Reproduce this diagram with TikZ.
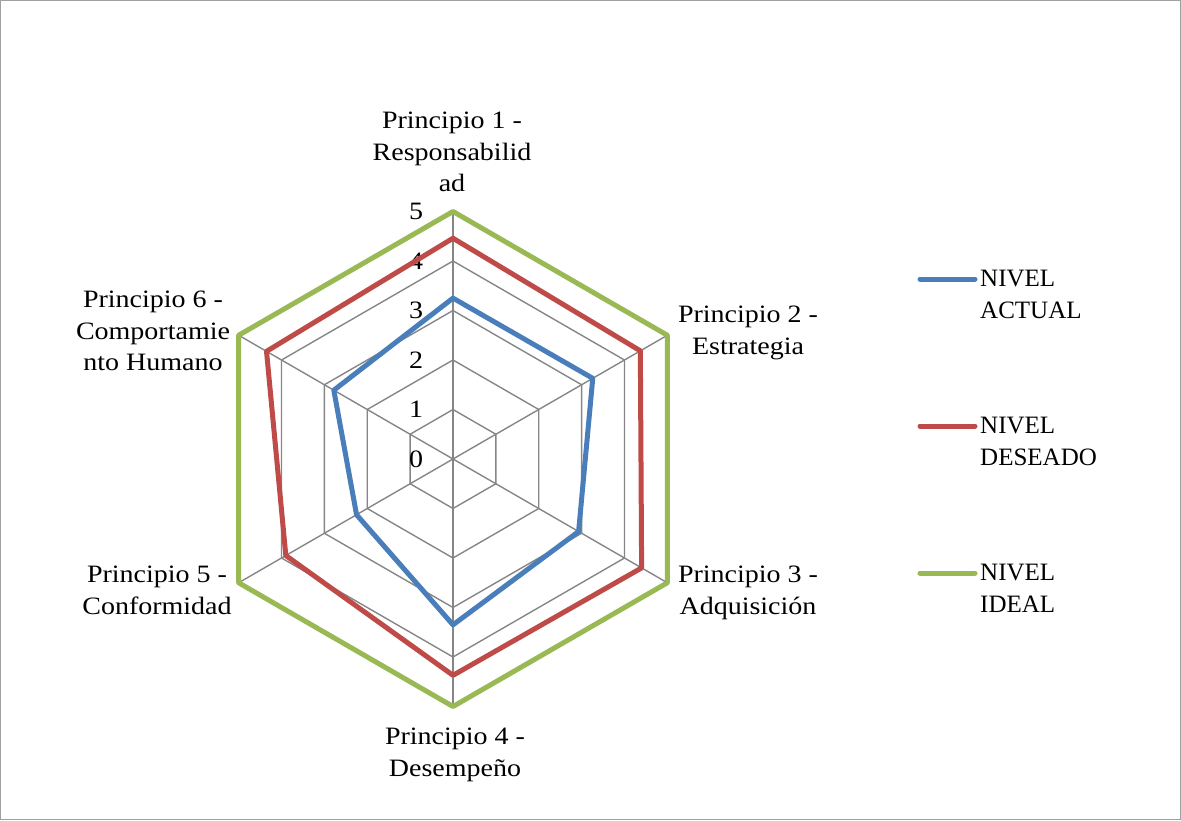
\documentclass[tikz,border=0pt]{standalone}
\usepackage{fontspec}
\setmainfont{Liberation Serif}[FakeStretch=1.12]
\newfontfamily\legendfont{Liberation Serif}
\definecolor{actualc}{RGB}{74,126,187}
\definecolor{deseadoc}{RGB}{190,75,72}
\definecolor{idealc}{RGB}{152,185,84}
\definecolor{gridc}{RGB}{134,134,134}
\definecolor{framec}{RGB}{160,160,160}

\begin{document}
\begin{tikzpicture}[x=1pt,y=-1pt,
  font=\fontsize{25}{31.5}\selectfont,
  gridline/.style={draw=gridc,line width=1.4pt},
  serie/.style={line width=5pt,line join=round},
  legline/.style={line width=5pt,line cap=round},
  axislabel/.style={inner sep=0pt,align=center,anchor=north},
  ticklabel/.style={inner sep=0pt,anchor=center},
  legtext/.style={inner sep=0pt,align=left,anchor=north west,
    font=\legendfont\fontsize{25}{31.5}\selectfont}]

\useasboundingbox (0,0) rectangle (1181,820);
\draw[framec,line width=1pt] (0.5,0.5) rectangle (1180.5,819.5);

% radar chart, one unit = 49.5pt
\def\u{49.5}
\begin{scope}[shift={(453,459)}]
  % rings 1..5
  \foreach \r in {1,...,5}
    \draw[gridline] (-90:{\r*\u}) -- (-30:{\r*\u}) -- (30:{\r*\u}) -- (90:{\r*\u})
      -- (150:{\r*\u}) -- (210:{\r*\u}) -- cycle;
  % spokes
  \foreach \a in {-90,-30,30,90,150,210}
    \draw[gridline] (0,0) -- (\a:{5*\u});
  % scale values
  \foreach \r in {0,...,5}
    \node[ticklabel] (tick\r) at (-37,{-\r*\u}) {\r};
  % NIVEL IDEAL
  \draw[serie,idealc] (-90:{5*\u}) -- (-30:{5*\u}) -- (30:{5*\u}) -- (90:{5*\u})
      -- (150:{5*\u}) -- (210:{5*\u}) -- cycle;
  % NIVEL DESEADO
  \draw[serie,deseadoc] (-90:{4.46*\u}) -- (-30:{4.37*\u}) -- (30:{4.4*\u}) -- (90:{4.37*\u})
      -- (150:{3.9*\u}) -- (210:{4.35*\u}) -- cycle;
  % NIVEL ACTUAL
  \draw[serie,actualc] (-90:{3.25*\u}) -- (-30:{3.26*\u}) -- (30:{2.93*\u}) -- (90:{3.35*\u})
      -- (150:{2.25*\u}) -- (210:{2.78*\u}) -- cycle;
\end{scope}

% axis labels
\node[axislabel] (p1) at (452,112) {Principio 1 -\\Responsabilid\\ad};
\node[axislabel] (p2) at (748,306) {Principio 2 -\\Estrategia};
\node[axislabel] (p3) at (748,566) {Principio 3 -\\Adquisición};
\node[axislabel] (p4) at (455,728) {Principio 4 -\\Desempeño};
\node[axislabel] (p5) at (157,566) {Principio 5 -\\Conformidad};
\node[axislabel] (p6) at (153,291) {Principio 6 -\\Comportamie\\nto Humano};

% legend
\coordinate (la1) at (920,279); \coordinate (lb1) at (975,279);
\coordinate (la2) at (920,426); \coordinate (lb2) at (975,426);
\coordinate (la3) at (920,573); \coordinate (lb3) at (975,573);
\draw[legline,actualc] (la1) -- (lb1);
\draw[legline,deseadoc] (la2) -- (lb2);
\draw[legline,idealc] (la3) -- (lb3);
\node[legtext] (l1) at (980,270) {NIVEL\\ACTUAL};
\node[legtext] (l2) at (980,417) {NIVEL\\DESEADO};
\node[legtext] (l3) at (980,564) {NIVEL\\IDEAL};
\end{tikzpicture}
\end{document}
